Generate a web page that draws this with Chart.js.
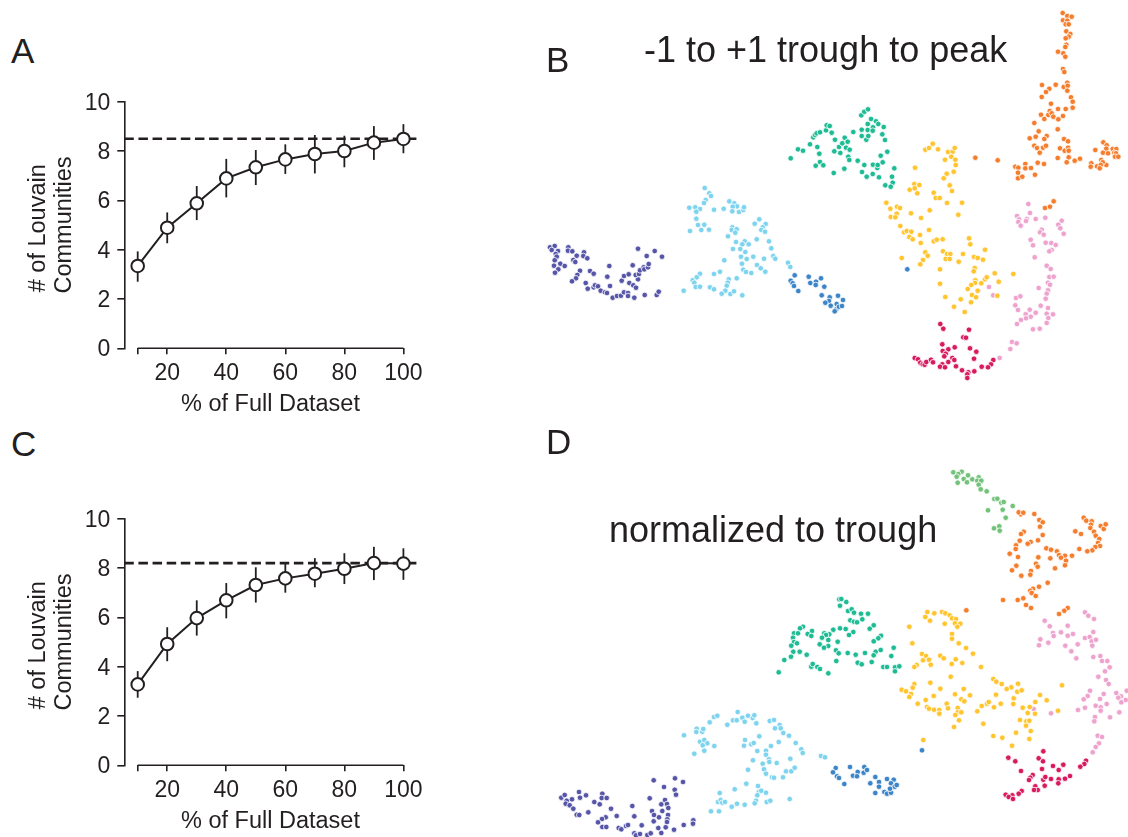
<!DOCTYPE html>
<html><head><meta charset="utf-8">
<script src="https://cdn.jsdelivr.net/npm/chart.js@4"></script>
<style>
html,body{margin:0;padding:0;background:#fff;width:1128px;height:837px;overflow:hidden}
canvas{position:absolute}
.t{position:absolute;font-family:"Liberation Sans",Arial,sans-serif;color:#231f20;white-space:nowrap;transform:translateY(-50%);line-height:1}
</style></head><body>
<canvas id="a" width="440" height="340" style="left:0;top:80px;width:440px;height:340px"></canvas>
<canvas id="c" width="440" height="340" style="left:0;top:497px;width:440px;height:340px"></canvas>
<canvas id="b" width="588" height="420" style="left:540px;top:0;width:588px;height:420px"></canvas>
<canvas id="d" width="588" height="417" style="left:540px;top:420px;width:588px;height:417px"></canvas>
<div class="t" style="left:11px;top:49.5px;font-size:35px">A</div>
<div class="t" style="left:546px;top:58.5px;font-size:35px">B</div>
<div class="t" style="left:11px;top:443px;font-size:35px">C</div>
<div class="t" style="left:546px;top:441px;font-size:35px">D</div>
<div class="t" style="left:644px;top:50px;font-size:36px">-1 to +1 trough to peak</div>
<div class="t" style="left:609px;top:530px;font-size:36px">normalized to trough</div>
<script>
const percentFull=[10,20,30,40,50,60,70,80,90,100];
const xTicks=[10,20,40,60,80,100];
const xLabelled=[20,40,60,80,100];
const communitiesA=[3.34,4.89,5.88,6.89,7.34,7.66,7.88,8.0,8.34,8.49];
const lowA=[2.70,4.26,5.2,6.12,6.62,7.07,7.09,7.34,7.64,7.91];
const highA=[3.93,5.51,6.58,7.68,8.04,8.27,8.65,8.62,9.01,9.09];
const fullA=8.5;
const communitiesC=[3.28,4.92,5.97,6.69,7.31,7.58,7.77,7.97,8.2,8.18];
const lowC=[2.74,4.22,5.26,5.96,6.6,7.0,7.22,7.35,7.51,7.52];
const highC=[3.82,5.6,6.69,7.39,8.03,8.16,8.4,8.6,8.86,8.8];
const fullC=8.2;

const bPurple=[[550,247.3],[554.7,246],[551.7,250],[558,251],[555.7,254],[556.7,256.7],[554.7,260.3],[554,265.7],[560.3,263.7],[564.7,266],[558.3,269.3],[555,272.7],[568.3,247.3],[568,250.7],[572.3,251.3],[576.7,255.7],[573.3,260],[575.3,262],[584,252.3],[583.3,256],[587.3,258.3],[580,270.7],[577.3,275],[576,278.3],[572,281.3],[590,271],[593.7,273.7],[585.7,283],[587.7,288.7],[593.7,287.3],[595,285.3],[598,286.3],[600.7,290.7],[605,292.3],[607,293],[609.3,266],[607.3,276.7],[610,286],[612.7,297.7],[617,296],[621,295.7],[624,292.3],[628,293],[628,296],[634.3,297.7],[644.7,295],[656.7,295],[658.7,291.7],[621.7,280.7],[624,276],[628.7,274.3],[632.7,265.3],[629.3,283],[633.3,285.3],[636,287.7],[638,279.3],[635.7,275],[639,274],[640,270.3],[643.7,267.3],[644.3,269.3],[648,267.3],[648.7,264],[638,248.7],[646.7,256],[654.7,251],[662,256.7]];
const bLightBlue=[[704.7,188],[709.3,193.3],[711,196],[705.7,200],[704,203],[689.3,207.7],[695.3,207.3],[700,209],[696.3,211.7],[714,209.7],[723.7,208.7],[729.3,201.3],[734.3,203.3],[737,206.3],[732.7,206.7],[732.3,211.3],[739,212],[743.3,210],[744,207.3],[696.3,218.7],[698,225],[704.3,224.7],[701.3,230],[690,231],[709,229.7],[759.3,219.3],[754.7,223.7],[765.7,224],[762.7,227.3],[761.3,230],[765,231.7],[732.3,227.3],[731.7,230],[736.7,229.3],[735.3,232.7],[728,236.3],[756.7,239.3],[769,241.3],[736,242],[744.7,241.3],[742.3,244.3],[748.7,244.3],[733,249],[740.3,249],[771.3,248.3],[745.3,252],[741,256.7],[746.7,259],[753.3,256.7],[764,258.7],[773.3,256],[775.3,258.7],[724.3,260.3],[742,263.7],[757,265],[760.7,268.3],[765.3,271.7],[743.3,269.7],[746,272],[751.3,273],[788,262.7],[790.3,267],[700,273.7],[696.7,277.3],[692.7,280.3],[694.3,282.7],[695.7,287],[700,286.7],[714,274],[720,271.7],[736.7,278.3],[728.7,279.3],[727.7,282.7],[726.7,285.7],[710,287.3],[714,289.3],[683.7,290.7],[725.3,290.7],[721.7,293.7],[730.3,294],[734,291.3],[742.3,295.3]];
const bBlue=[[794.7,275.3],[790.7,280.7],[792.7,283.3],[794,286],[798.3,291],[808.7,276.7],[810.3,283],[816,281.7],[815.7,285],[821,278.3],[824.3,286.7],[821.7,295.3],[829.7,297.3],[829,301],[825.3,302.7],[830.7,305.7],[836.7,304],[838,295.7],[836.3,309.3],[834.7,311.3],[839,306.7],[843,300],[842,306],[907.3,269.3]];
const bTeal=[[790.7,158.3],[798,149.3],[803,150.7],[810,144.3],[813.3,137.3],[815,135],[816.7,133.3],[820,132.3],[817.3,147],[819.3,153.7],[826,130.3],[826.7,125.3],[829.7,126],[831.7,132.7],[835,139.7],[820,162],[815.7,165.7],[823.3,165.3],[833.7,173],[844.3,168.7],[834.3,151.3],[839,147],[840.3,153],[842.3,143.3],[844.7,137.7],[846,147.7],[847.7,141.7],[849.7,149.7],[848.3,156.7],[849.3,160],[853.3,132],[857.7,160.7],[861.7,129.7],[861.7,136],[861.3,115.3],[864.3,111.7],[868,109.3],[871,119],[867.7,124],[867.7,130],[873,127.3],[872.7,130.7],[866.3,139.7],[868.3,136],[876,121.3],[878.3,124],[883.7,127],[882.3,134.3],[885,140],[864.3,165],[862,172],[866.7,176.7],[872.7,174],[873,164.7],[877.3,168],[877.7,165],[882.7,162.3],[880.7,155.7],[887.3,151.7],[879,177.3],[894.3,168.3],[892,176.7],[892.7,182.7],[885.3,185.3],[890.7,186.7]];
const bYellow=[[925.3,149.7],[929,148],[932.7,143.7],[938,149.3],[915,167.7],[909.7,189.7],[914.3,184],[919.3,185],[914.7,188.3],[917.3,193.3],[945,159.7],[948,152],[952.7,151.7],[954.7,148],[951.3,156.7],[955.3,159.7],[955.7,165],[953.7,171.7],[946.7,173.7],[943.7,178.3],[949.7,185.3],[952,191],[933.7,192.7],[935.7,198],[939.7,198],[947,203],[962,202.7],[886.3,202.7],[890.3,208.7],[897,206.7],[900,208],[896.7,213.7],[890.7,217],[895.3,217.3],[911,213.3],[921,218],[929.7,210.3],[958.3,214.7],[900.3,226],[904,232.3],[906.7,231],[911.3,231.7],[909.3,237],[912.7,239.3],[920,235],[929,230],[920.7,243],[933.7,241.3],[936.7,239.7],[942.7,239.3],[969,238.3],[970.3,244.3],[985,249.7],[925.3,252.3],[927.7,255.7],[901.7,258],[923,260],[920.3,264.3],[943,251.3],[947,254],[950.3,254],[945.7,259],[949.7,259],[963,254],[958.7,261.7],[974,257],[977.7,258],[983,259.7],[940,269.3],[974.7,268],[973.7,271.3],[994.7,273.3],[1013.3,274],[940,283.7],[998.7,281.7],[985,279.3],[986.7,277.3],[975.3,280.3],[975,283],[981.3,283.3],[971.3,285],[967.7,289],[977.7,290.7],[972,295],[976,297.3],[997.3,295.7],[945.3,297],[960.7,299.3],[971,302.3],[954,306.7],[964.7,312]];
const bPink=[[989,287],[993.3,295.3],[1028.3,204],[1030,213],[1017,216],[1045.3,217.7],[1035.7,219],[1026.7,219],[1026,221],[1019,219.3],[1018.3,222],[1020.7,225.7],[1061.7,220.7],[1058.3,224.7],[1060.3,228.3],[1063.7,233.7],[1041.7,229.7],[1040,232.3],[1043.7,234.7],[1030.7,239.7],[1033,245.3],[1045.7,242.7],[1051.3,243],[1055.7,245],[1051.7,250],[1049.3,251.3],[1034.7,257.3],[1046.7,265.7],[1050.7,269],[1049.3,277],[1053.7,276.7],[1048,282.7],[1050,284.7],[1038.7,288],[1048,290.3],[1046.7,293.7],[1045.7,298.7],[1016,298],[1020.3,296.3],[1015.3,305.3],[1018,310],[1040.7,305.7],[1048,308],[1029.7,309.7],[1035.7,312.7],[1025.7,314.3],[1030.7,316.7],[1026,318.3],[1046.7,313.7],[1053,314.3],[1048.3,318],[1021,320],[1017,324],[1046.7,323],[1033,329.3],[1039.7,328.7],[1012,342],[1016.7,343.3],[1010.3,349],[999.7,358]];
const bRed=[[940.3,324],[943.3,328.7],[969,329.7],[963.3,337.3],[966,337.7],[942.3,344.3],[954.7,347.3],[948.3,349.3],[942.7,351],[970,348.3],[976.3,351.7],[945.7,353.7],[944.3,356.3],[952.3,358],[954.3,360],[974,358.7],[948.3,362],[956,366.3],[993.3,360],[991,364.3],[988,367.3],[981.7,366.7],[974.3,371.3],[962,370.3],[968.3,372.3],[967.3,374.3],[967.3,378],[942.3,364.3],[940,366.7],[945,367.3],[914.7,358],[918,359.3],[920.3,362.7],[922.7,364.3],[924.7,364.7],[926.3,362],[931,359.7],[933,362.3]];
const bOrange=[[975.3,157.7],[997.7,160.3],[1045,208],[1050,206.7],[1053.7,201.3],[1062.7,13],[1067.3,16],[1071.7,16.7],[1063,20.3],[1067.3,20.7],[1065.7,24.3],[1068.7,24.3],[1066.3,31.3],[1070.3,34],[1068.7,36.7],[1065.7,38.3],[1066.3,44.7],[1065.3,47],[1058,51.7],[1063.3,53.3],[1065.3,56.7],[1063,69],[1064.3,72],[1067.3,82.7],[1063.7,87],[1067.7,85.7],[1067.3,90.7],[1055.7,84.7],[1042,85],[1049.3,88.7],[1046,92],[1041.7,97],[1071,97.3],[1072.7,101.7],[1072.7,107.7],[1051,103.7],[1065.7,109],[1058,109],[1049.7,111],[1041,114.7],[1048.3,115],[1051.7,113.3],[1053.3,116.7],[1058.3,119.3],[1063,116],[1044.3,119],[1034.3,123],[1057.7,129.3],[1038.7,131.3],[1046.7,136],[1044.3,139],[1035.7,136.7],[1029.7,138.3],[1064,139],[1068,141.3],[1034.3,145.7],[1037,148],[1043,147.7],[1046,145.7],[1039.7,152.7],[1060,148.3],[1064.7,150.7],[1068,147.7],[1068.7,150.7],[1068.7,157.3],[1057.7,158],[1066.7,162.3],[1074.7,160.7],[1080,158.7],[1037.7,162.7],[1044,164],[1025.3,164],[1015.3,166.7],[1018.3,167.7],[1025.3,168.3],[1031,168],[1018,172.7],[1035,174.7],[1018,178.3],[1022.3,176.7],[1095.3,150],[1103.3,142.3],[1106.7,145.3],[1106.3,148.7],[1103,152.7],[1108,153.3],[1112.7,149],[1116.3,149],[1114.3,152.7],[1116,153.3],[1115,156.7],[1118.3,156.7],[1101.3,160],[1106.3,165],[1102.7,162.3],[1097,166.3],[1091.3,163.3],[1090.7,166.7],[1100.7,165],[1099.7,168.3]];

const dPurple=[[561.3,797.7],[564.7,795],[566.7,800.7],[565.7,803.7],[572,799.3],[569.7,805.3],[573.3,808.7],[579,792],[580,797.7],[586,795.3],[576.7,814.7],[579.3,815],[588.3,812.3],[594.3,802],[599.7,804.3],[602.3,793.7],[601.7,798],[606.7,798],[611,808.7],[616.7,816],[605.7,817.3],[602,819],[598,822.3],[602.3,827],[606.3,827],[618.7,828],[621.3,829.3],[626,826],[628,825],[632.3,806],[634.3,816.3],[641.7,825.3],[634.3,833.3],[636,835.3],[640,834],[647.3,835],[650.7,833.3],[661.3,833],[653.7,780.3],[664,787],[675,778.3],[683,782],[674.7,789.7],[676,794.7],[649.7,798.3],[661.3,804.3],[665,800],[667,804],[668.3,808],[662.3,811],[652,811],[654,815],[659,817.3],[668,815],[667.3,819.3],[653.7,821.3],[667,822],[658.3,828],[665.7,827.3],[674,829.7],[683.7,825],[693.3,820.3],[693,823.7]];
const dLightBlue=[[684,735.3],[696.7,728.7],[696.3,732],[702.3,731.7],[703.3,729],[709.7,722.3],[714,717],[717.3,715.7],[727.3,724.7],[733,720.3],[736.7,720.3],[737.7,712],[742.3,717.7],[744.7,721.7],[748,715.7],[752.7,718],[754.3,715.3],[756.3,723.3],[769.7,721],[774,720],[779.7,725],[775,728.3],[780.7,728.3],[783.3,733],[789,735.7],[795.7,743],[801.3,749.3],[802.7,753],[700,741.7],[704.3,740],[707.3,743.3],[702.7,745.3],[714.3,746],[704.3,750.7],[694.3,753.7],[759.3,736.3],[745,740],[744,745.7],[751.3,744.3],[753.7,743],[778.7,742],[771,746],[757.3,751],[766,750.7],[766,754.7],[769,759.3],[769.3,762],[753,760.3],[762.7,763.7],[776.7,763],[790.3,758.7],[748,769.7],[764,769.3],[766,773.7],[786,771.3],[791.3,771.3],[794.7,767.7],[772,777.3],[774,777.7],[783,777.3],[746.3,783.7],[758,786],[734.7,789.3],[719.7,793],[759,791.7],[761.3,790.7],[766,792.7],[757.3,795.3],[718,802],[720.7,800],[722.3,802.7],[725,802],[756,800.7],[754.7,803.3],[766.7,802],[770.3,800.7],[789.7,799],[737,803.7],[731.7,806.7],[744.7,804.7],[711,811.3],[719,811.3],[821,756],[825,757.3]];
const dBlue=[[835.7,768],[833,772.3],[837,776.3],[839,778],[844.3,784],[850,767],[857.7,772],[853,775.7],[857,776.3],[863.7,772.7],[864.3,767],[867,770],[875.3,777],[879,782],[870.3,783.3],[879,786.7],[875.3,793],[884.3,792],[887,793.7],[891,792.7],[887,779],[893.7,779.7],[891,783.3],[894.7,786.7],[896.7,785],[890,788.7],[922,750.3]];
const dTeal=[[839.3,599.3],[841.3,599],[846.3,602],[840,605.7],[848,611],[851.7,609.3],[854,612.7],[861,613.7],[868,613.7],[862.3,619.3],[850.3,620.3],[854,621.7],[857,622.3],[803,626.7],[800,628.3],[794,633.3],[798,633.3],[793,637.7],[794,642],[797,643.3],[791.3,645.7],[793.3,651.7],[799.7,651.7],[806.7,654.7],[791,656.7],[784.3,660],[778.7,672.3],[812,631],[807.7,634],[811.3,636],[833.3,629.7],[840,628.3],[845.7,629],[853.3,632],[849,635],[824.3,633.3],[829.3,634.3],[826,635],[822,637.7],[828.3,640],[837.7,641.7],[819.7,644.3],[828.3,646],[824,647.7],[836,650.3],[838.7,653.3],[847.7,653],[855.7,654.7],[865,653],[836.3,661],[857.7,662.7],[861.7,664.3],[871.7,662],[811.3,666.7],[812.7,664],[817.3,667],[820,669],[828.3,673.3],[873.7,625.3],[869.7,628.7],[881,635.7],[878.3,638.3],[873.7,641.3],[875.7,651.7],[880.7,650],[873.7,655.3],[891.3,656],[893.7,647.7],[883.3,667],[887,667],[895,667.3],[899.3,666.3],[895,671.3]];
const dYellow=[[927.3,612],[934.3,613.3],[925.3,617],[930,620.7],[942,612],[945.3,613.3],[949.7,615.3],[952,618.3],[956,619],[955,623.3],[960.3,623.7],[944.7,623.7],[957.3,626.7],[909.3,626.7],[952,634],[952,638.7],[912.3,643.3],[958.7,643.3],[966,648],[973,653.7],[922,654],[926,656],[923,660.3],[929,659.7],[940.3,655.7],[943.7,658.3],[955.7,659.3],[951.7,664],[962.3,663],[930.7,664.7],[916.7,665],[914.3,667],[981,667],[950.7,676.7],[993.3,679],[996.3,681.7],[1001.7,684],[1018,683.7],[1011.3,687.3],[1006.7,689],[1017.3,691.7],[1021.7,690.3],[1062,685.3],[914.3,684],[912.7,687.7],[930.3,682.7],[940.3,688.7],[901.7,689.7],[906,691.3],[911,694],[909.3,697],[963.7,689],[955,694.3],[970,695.3],[933.7,696],[925.7,700],[917.7,703.7],[996,694.7],[961.3,699.3],[964.3,701.3],[946.7,703.7],[1013.7,698.3],[1040,695],[1046.7,700.3],[1035.3,702],[1000.7,703.7],[987,703.7],[988.7,702],[981.7,706],[1013.3,704],[994,707.3],[977.3,711.3],[1029.7,707],[1022.7,707.7],[927,707],[929,708.7],[934,709.7],[939.3,710],[939.3,713.7],[948,708.3],[957.7,708],[957.7,712.3],[961.3,712.3],[955.3,715],[1027.7,713],[1035,713.7],[1058,710.7],[959,720.3],[954,727],[983.3,723.7],[1020,720],[1026.3,721.3],[1029.3,720.7],[1026,725.7],[1030.7,731],[1016,732.7],[993.3,736],[1002.3,737.7],[1029.3,739],[1012,745.7],[923.3,740]];
const dPink=[[1033.7,709],[1051,713.3],[1085,612.3],[1088.3,615.7],[1094,619],[1044.7,620.7],[1049.7,626.3],[1067.7,625.7],[1061,632.3],[1053,633],[1053.7,636],[1067.7,635.7],[1073,634],[1093.3,632],[1085,638],[1089.7,637],[1091.7,641.3],[1096,639.7],[1040.3,639.3],[1039,645.3],[1048.3,642.7],[1065.3,645.7],[1077.7,644.3],[1092.3,645.7],[1071.3,651.3],[1076.3,658.3],[1093.3,657],[1100.3,656],[1102,661],[1107.3,661],[1109.7,667.3],[1105,671.3],[1098.3,676.7],[1106,680],[1108.7,684],[1090,690.7],[1103.7,694],[1087.7,696],[1083.7,699.3],[1100,699],[1116.3,693],[1121,696.3],[1118.3,697.7],[1125.7,700],[1121.3,702.3],[1126.7,690.7],[1106.7,704],[1095.7,705.7],[1100.7,707.3],[1100.7,710.7],[1078,710],[1085,707.7],[1119.3,712.3],[1095,717],[1110,717.3],[1094.3,721.3],[1097.7,735.7],[1102,737],[1099,743.3],[1095.7,747],[1092.7,752.3]];
const dRed=[[1008.3,757.7],[1015.3,761.3],[1021,771],[1043.3,751.3],[1038.7,758.3],[1043,761.3],[1053,766],[1063.3,764.7],[1058.7,770],[1042,769],[1032.7,775],[1030.3,777.7],[1029,780],[1043.3,779.7],[1045.3,777],[1051,779],[1058.7,779.3],[1065,778.7],[1070,776],[1058.3,783.3],[1044.7,785.7],[1035.3,786.3],[1037.7,790],[1034,790],[1021.7,791],[1018.7,793.7],[1012.3,795.3],[1005.7,794.7],[1008.7,797],[1013,799],[1086,760.7],[1084.3,764],[1080.3,766.7]];
const dOrange=[[1020.7,514.3],[1018.7,512.3],[1023.3,512.7],[1034.3,514],[1039.3,520],[1042.7,522.3],[1040,526.7],[1042.7,535],[1038,540.3],[1023.7,531.7],[1021,534],[1019.7,540.7],[1016,545.3],[1015.7,549],[1009.7,553.7],[1018,557],[1030.7,542],[1027.7,543.7],[1046.3,548.3],[1051,549.7],[1057,551.3],[1059,555],[1065,555.7],[1061,557.7],[1066,560.7],[1072,555.7],[1065,565.3],[1055,568.3],[1050.3,558.3],[1038.3,557.3],[1036,563.7],[1037.7,566.7],[1016.3,565.7],[1012,570.3],[1031,571],[1030.3,574.7],[1021.3,575.7],[1075.3,531.3],[1081,534],[1083.7,517.7],[1086.3,520.7],[1091.7,521.3],[1091,524.7],[1090.3,528],[1094,531.7],[1095.7,535.7],[1099.3,539],[1098,543],[1100.7,526],[1103.7,529],[1105.7,524.3],[1100,546],[1095.3,547],[1092.3,550.3],[1087.3,551.3],[1079.3,549],[1047.7,582.7],[1039,586.7],[1033,588.7],[1030.3,590.7],[1031.7,593],[1035.7,596],[1023.3,598.3],[1017.7,600],[1003,600],[1026,605],[1031,608],[966.3,610.3],[1067.7,608],[1064.3,610.7],[1059,614]];
const dGreen=[[953.3,472.3],[961.7,471.7],[958.3,474],[956.7,476.7],[968,475.3],[963.7,479],[957.7,482.7],[967,482.3],[972.3,479.3],[978.7,477.3],[977.3,480.7],[981.3,480.7],[978.7,484.7],[980.7,489.3],[986.7,491.3],[994.3,499],[997.3,498.7],[1001.3,502.7],[1003.7,502],[1012.7,506],[988,510.3],[1002.7,509.7],[1005.7,517.7],[994,528.3],[999.3,526.3],[999.7,530.7]];

const INK='#231f20', FONT='"Liberation Sans", Arial, sans-serif';
const colors={purple:'#5655a8',lightBlue:'#7ed3ee',blue:'#3d85c9',teal:'#1ebb94',yellow:'#ffc42e',pink:'#eea3ce',red:'#d81b5f',orange:'#f57e2e',green:'#74c27a'};

function curveChart(id,values,low,high,full){
  const errs=percentFull.map((x,i)=>({data:[{x,y:low[i]},{x,y:high[i]}],borderColor:INK,borderWidth:1.8,pointRadius:0,clip:false}));
  new Chart(document.getElementById(id),{type:'line',
    data:{datasets:[
      {data:percentFull.map((x,i)=>({x,y:values[i]})),borderColor:INK,borderWidth:2,pointRadius:6.3,pointBorderWidth:2,pointBackgroundColor:'#fff',pointBorderColor:INK,clip:false},
      {data:[{x:5.46,y:full},{x:104.5,y:full}],borderColor:INK,borderWidth:2.6,borderDash:[9.5,4.63],pointRadius:0,clip:false},
      ...errs,
      {data:[{x:percentFull[0],y:0},{x:percentFull[9],y:0}],borderColor:INK,borderWidth:1.6,pointRadius:0,clip:false}
    ]},
    options:{responsive:false,animation:false,events:[],
      layout:{autoPadding:false,padding:{top:21.7,right:23.3,left:0,bottom:0}},
      plugins:{legend:{display:false},tooltip:{enabled:false}},
      scales:{
        x:{type:'linear',min:5.46,max:104.5,
          afterBuildTicks:s=>{s.ticks=xTicks.map(value=>({value}))},
          afterFit:s=>{s.height=71.7},
          border:{display:false},
          grid:{drawOnChartArea:false,drawTicks:true,tickLength:6,color:INK,lineWidth:1.6},
          ticks:{autoSkip:false,maxRotation:0,padding:6,color:INK,font:{family:FONT,size:23},callback:v=>xLabelled.includes(v)?String(v):''},
          title:{display:true,text:'% of Full Dataset',color:INK,font:{family:FONT,size:23.5},padding:{top:0,bottom:1}}},
        y:{min:0,max:10,
          afterFit:s=>{s.width=124.3},
          border:{display:true,color:INK,width:1.6},
          grid:{drawOnChartArea:false,drawTicks:true,tickLength:7,color:INK,lineWidth:1.6},
          ticks:{stepSize:2,padding:7,labelOffset:1.5,color:INK,font:{family:FONT,size:23}},
          title:{display:true,text:['# of Louvain ','Communities'],color:INK,font:{family:FONT,size:23.5,lineHeight:1.106},padding:{top:25.5,bottom:0}}}
      }}});
}
curveChart('a',communitiesA,lowA,highA,fullA);
curveChart('c',communitiesC,lowC,highC,fullC);

function embedChart(id,groups,xr,yr){
  new Chart(document.getElementById(id),{type:'scatter',
    data:{datasets:groups.map(([pts,c])=>({data:pts.map(([x,y])=>({x,y})),backgroundColor:c,borderColor:'#fff',borderWidth:0.8,pointRadius:2.8,clip:false}))},
    options:{responsive:false,animation:false,events:[],layout:{autoPadding:false,padding:0},
      plugins:{legend:{display:false},tooltip:{enabled:false}},
      scales:{x:{display:false,min:xr[0],max:xr[1]},y:{display:false,reverse:true,min:yr[0],max:yr[1]}}}});
}
embedChart('b',[[bPurple,colors.purple],[bLightBlue,colors.lightBlue],[bBlue,colors.blue],[bTeal,colors.teal],[bYellow,colors.yellow],[bPink,colors.pink],[bRed,colors.red],[bOrange,colors.orange]],[540,1128],[0,420]);
embedChart('d',[[dPurple,colors.purple],[dLightBlue,colors.lightBlue],[dBlue,colors.blue],[dTeal,colors.teal],[dYellow,colors.yellow],[dPink,colors.pink],[dRed,colors.red],[dOrange,colors.orange],[dGreen,colors.green]],[540,1128],[420,837]);
</script>
</body></html>
